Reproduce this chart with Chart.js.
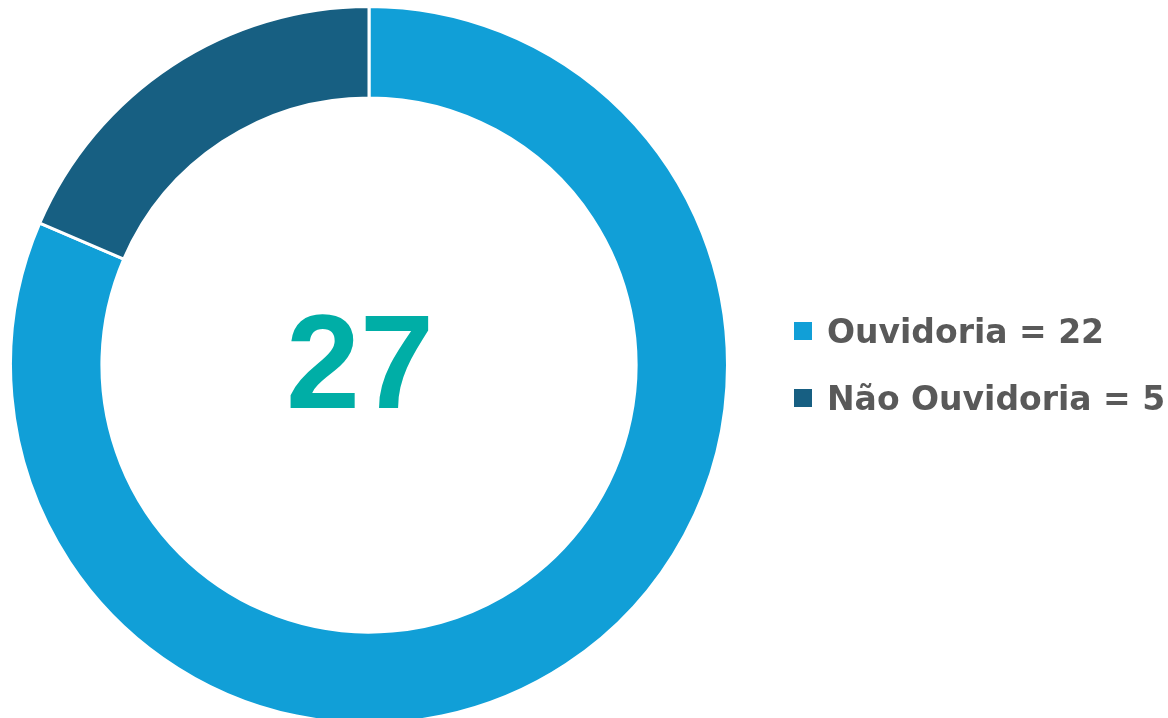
<!DOCTYPE html>
<html>
<head>
<meta charset="utf-8">
<script src="https://cdn.jsdelivr.net/npm/chart.js@4"></script>
<style>
    html, body { margin: 0; padding: 0; background: #fff; overflow: hidden; }
    #wrap { width: 1168px; height: 730px; position: relative; }
</style>
</head>
<body>
<div id="wrap"><canvas id="chart"></canvas></div>
<script>
const categorias = ['Ouvidoria', 'Não Ouvidoria'];
const valores = [22, 5];
const cores = ['#119FD7', '#175F82'];

// texto do total no centro + legenda desenhada à mão
const centroELegenda = {
    id: 'centroELegenda',
    afterDraw(chart) {
        const ctx = chart.ctx;
        const total = valores.reduce((a, b) => a + b, 0);
        ctx.save();
        ctx.fillStyle = '#00AEA6';
        ctx.font = 'bold 133px "Liberation Sans", Arial, sans-serif';
        ctx.textAlign = 'center';
        ctx.textBaseline = 'alphabetic';
        ctx.fillText(String(total), 360, 408);

        ctx.font = 'bold 33px "DejaVu Sans", sans-serif';
        ctx.textAlign = 'left';
        categorias.forEach((cat, i) => {
            const base = 343 + i * 67;
            ctx.fillStyle = cores[i];
            ctx.fillRect(794, base - 21, 18, 18);
            ctx.fillStyle = '#595959';
            ctx.fillText(cat + ' = ' + valores[i], 827, base);
        });
        ctx.restore();
    }
};

const chart = new Chart(document.getElementById('chart').getContext('2d'), {
    type: 'doughnut',
    data: {
        labels: categorias,
        datasets: [{
            data: valores,
            backgroundColor: cores,
            borderColor: '#ffffff',
            borderWidth: 3,
            hoverOffset: 0
        }]
    },
    options: {
        responsive: true,
        maintainAspectRatio: false,
        animation: false,
        cutout: '74.5%',
        layout: {
            padding: { left: 9, right: 439, top: 5, bottom: 5 }
        },
        plugins: {
            legend: { display: false },
            tooltip: { enabled: false }
        }
    },
    plugins: [centroELegenda]
});
</script>
</body>
</html>
